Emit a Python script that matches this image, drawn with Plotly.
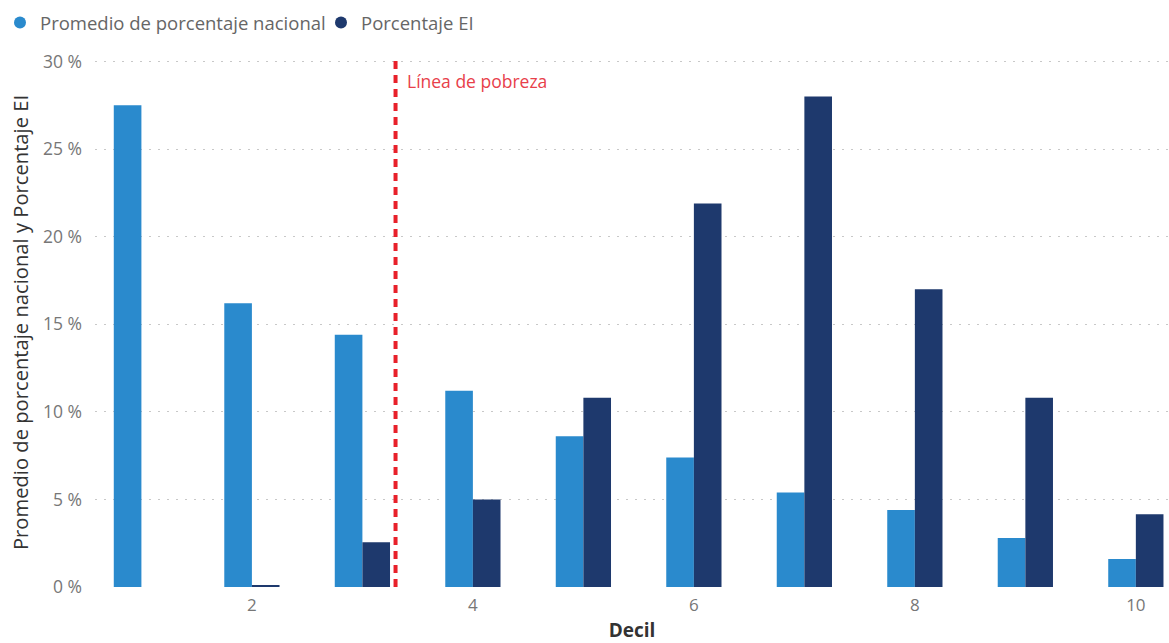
import plotly.graph_objects as go

deciles = [1, 2, 3, 4, 5, 6, 7, 8, 9, 10]
nacional = [27.5, 16.2, 14.4, 11.2, 8.6, 7.4, 5.4, 4.4, 2.8, 1.6]
ei = [0.0, 0.1, 2.55, 5.0, 10.8, 21.9, 28.0, 17.0, 10.8, 4.15]
y_ticks = [0, 5, 10, 15, 20, 25, 30]
y_ticktext = ["0 %", "5 %", "10 %", "15 %", "20 %", "25 %", "30 %"]
x_ticks = [2, 4, 6, 8, 10]
poverty_line = 3.3

c_nac = "#2A8ACD"
c_ei = "#1E396D"
font = "Open Sans"

fig = go.Figure()
fig.add_trace(go.Bar(x=deciles, y=nacional, name="Promedio de porcentaje nacional",
                     marker=dict(color=c_nac, line=dict(width=0)), showlegend=False))
fig.add_trace(go.Bar(x=deciles, y=ei, name="Porcentaje EI",
                     marker=dict(color=c_ei, line=dict(width=0)), showlegend=False))
# legend entries with circle symbols
fig.add_trace(go.Scatter(x=[None], y=[None], mode="markers", name="Promedio de porcentaje nacional",
                         marker=dict(color=c_nac, size=15, symbol="circle"), legend="legend"))
fig.add_trace(go.Scatter(x=[None], y=[None], mode="markers", name="Porcentaje EI",
                         marker=dict(color=c_ei, size=15, symbol="circle"), legend="legend2"))

fig.add_shape(type="line", x0=poverty_line, x1=poverty_line, xref="x", y0=0, y1=1, yref="paper",
              line=dict(color="#E8202A", width=4, dash="8px,6px"))
fig.add_annotation(x=poverty_line, y=28.9, xref="x", yref="y", text="Línea de pobreza",
                   showarrow=False, xanchor="left", xshift=9,
                   font=dict(family=font, size=17.5, color="#E8404A"))

leg_common = dict(orientation="h", xref="container", xanchor="left",
                  y=1 - 4/643, yref="container", yanchor="top",
                  font=dict(family=font, size=18.5, color="#666666"),
                  itemsizing="constant", itemwidth=30, bgcolor="rgba(0,0,0,0)")

fig.update_layout(
    width=1169, height=643,
    margin=dict(l=95, r=0, t=58, b=56),
    plot_bgcolor="white", paper_bgcolor="white",
    barmode="group", bargap=0.5, bargroupgap=0,
    font=dict(family=font, color="#666666"),
    legend=dict(x=0, **leg_common),
    legend2=dict(x=321/1169, **leg_common),
    xaxis=dict(range=[0.58, 10.3], tickvals=x_ticks, showgrid=False, zeroline=False,
               showline=False, ticks="", ticklabelstandoff=6,
               tickfont=dict(size=17, color="#777777"),
               title=dict(text="<b>Decil</b>", font=dict(size=19, color="#333333"), standoff=9)),
    yaxis=dict(range=[0, 30.2], tickvals=y_ticks, ticktext=y_ticktext, showgrid=True,
               gridcolor="#C8C8C8", griddash="2px,7px", gridwidth=1, zeroline=False,
               showline=False, ticks="", ticklabelstandoff=12,
               tickfont=dict(size=17.5, color="#777777"),
               title=dict(text="Promedio de porcentaje nacional y Porcentaje EI",
                          font=dict(size=20.2, color="#333333"), standoff=8)),
)

fig.write_html("out.html")
